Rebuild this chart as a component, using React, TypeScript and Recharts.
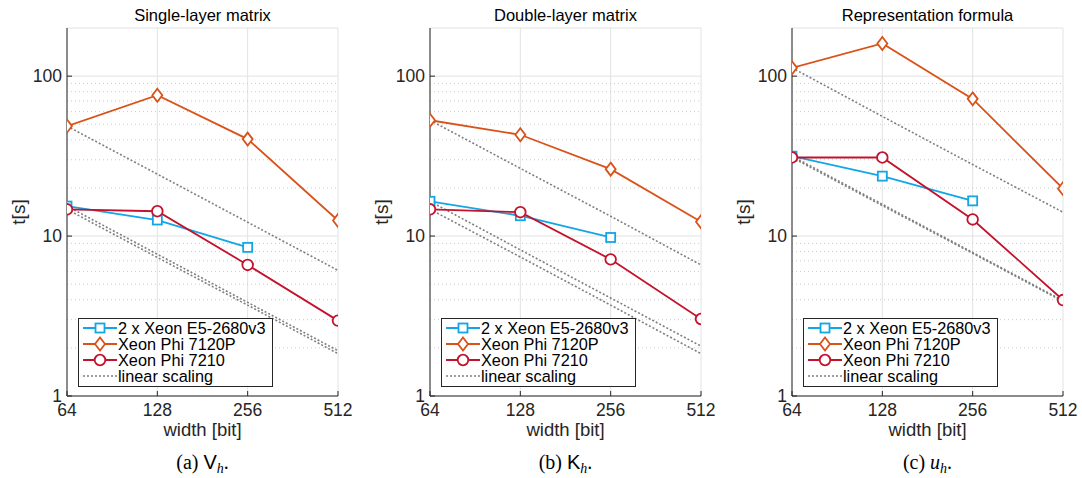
import React from "react";
import {
  LineChart,
  Line,
  XAxis,
  YAxis,
  CartesianGrid,
  ReferenceLine,
} from "recharts";

// x values (bit width) and axis ticks
const widths = [64, 128, 256, 512];
const xTicks = [64, 128, 256, 512];
const yTicks = [1, 10, 100];
const yMinor = [2, 3, 4, 5, 6, 7, 8, 9, 20, 30, 40, 50, 60, 70, 80, 90];

// (a) single-layer matrix
const singleE5 = [15.4, 12.6, 8.5];
const single7120 = [48.7, 76, 40.4, 12.5];
const single7210 = [14.7, 14.3, 6.6, 2.96];
const singleLinA = [48.7, 24.4, 12.2, 6.1];
const singleLinB = [15.4, 7.7, 3.85, 1.92];
const singleLinC = [14.7, 7.35, 3.7, 1.84];

// (b) double-layer matrix
const doubleE5 = [16.5, 13.4, 9.8];
const double7120 = [53, 43, 26.2, 12.3];
const double7210 = [14.7, 14.1, 7.15, 3.03];
const doubleLinA = [53, 26.5, 13.3, 6.6];
const doubleLinB = [16.5, 8.2, 4.1, 2.05];
const doubleLinC = [14.7, 7.4, 3.7, 1.84];

// (c) representation formula
const reprE5 = [31.6, 23.7, 16.6];
const repr7120 = [112.7, 160, 72.1, 19.8];
const repr7210 = [31, 31, 12.7, 3.98];
const reprLinA = [112.7, 56, 28, 14.1];
const reprLinB = [31.6, 15.8, 7.9, 3.95];
const reprLinC = [31, 15.5, 7.8, 3.9];

const seriesNames = [
  "2 x Xeon E5-2680v3",
  "Xeon Phi 7120P",
  "Xeon Phi 7210",
  "linear scaling",
];

const BLUE = "#12a6e6";
const ORANGE = "#d95319";
const RED = "#c3122c";
const GREY = "#7f7f7f";
const INK = "#262626";
const SANS = "'Liberation Sans', Arial, Helvetica, sans-serif";
const SERIF = "'Liberation Serif', 'Times New Roman', serif";

const PLOT_LEFT = 67;
const PLOT_W = 271;
const PLOT_TOP = 28;
const PLOT_H = 368;

// marker shapes
const Square = ({ cx, cy, color }: any) => (
  <rect x={cx - 4.5} y={cy - 4.5} width={9} height={9} fill="#fff" stroke={color} strokeWidth={1.8} />
);
const Diamond = ({ cx, cy, color }: any) => (
  <path
    d={`M${cx},${cy - 6.5} L${cx + 5},${cy} L${cx},${cy + 6.5} L${cx - 5},${cy} Z`}
    fill="#fff"
    stroke={color}
    strokeWidth={1.8}
  />
);
const Circle = ({ cx, cy, color }: any) => (
  <circle cx={cx} cy={cy} r={5.3} fill="#fff" stroke={color} strokeWidth={1.8} />
);

const makeDot = (Shape: any, color: string) => (props: any) => {
  const { cx, cy, index } = props;
  if (cx == null || cy == null || props.value == null) return <g key={`n-${index}`} />;
  return (
    <g key={`d-${index}`}>
      <Shape cx={cx} cy={cy} color={color} />
    </g>
  );
};

const LegendBox = () => {
  const icons = [
    <Square cx={17} cy={8} color={BLUE} />,
    <Diamond cx={17} cy={8} color={ORANGE} />,
    <Circle cx={17} cy={8} color={RED} />,
    null,
  ];
  const colors = [BLUE, ORANGE, RED, GREY];
  return (
    <div
      style={{
        position: "absolute",
        left: PLOT_LEFT + 11,
        top: 318,
        width: 193,
        height: 66,
        border: `1px solid ${INK}`,
        background: "#fff",
        paddingTop: 1,
        fontFamily: SANS,
        fontSize: 16.3,
        color: "#000",
      }}
    >
      {seriesNames.map((name, i) => (
        <div key={name} style={{ display: "flex", alignItems: "center", height: 16 }}>
          <svg width={34} height={16} style={{ marginLeft: 4, flex: "none" }}>
            <line
              x1={0}
              y1={8}
              x2={34}
              y2={8}
              stroke={colors[i]}
              strokeWidth={i === 3 ? 1.6 : 1.8}
              strokeDasharray={i === 3 ? "2 2" : undefined}
            />
            {icons[i]}
          </svg>
          <span style={{ marginLeft: 1, whiteSpace: "nowrap", lineHeight: "16px" }}>{name}</span>
        </div>
      ))}
    </div>
  );
};

interface PanelProps {
  left: number;
  title: string;
  caption: React.ReactNode;
  e5: number[];
  p7120: number[];
  p7210: number[];
  linA: number[];
  linB: number[];
  linC: number[];
}

function Panel({ left, title, caption, e5, p7120, p7210, linA, linB, linC }: PanelProps) {
  const rows = widths.map((w, i) => ({
    w,
    e5: e5[i],
    p7120: p7120[i],
    p7210: p7210[i],
    linA: linA[i],
    linB: linB[i],
    linC: linC[i],
  }));

  return (
    <div style={{ position: "absolute", left, top: 0, width: 358, height: 478 }}>
      <div
        style={{
          position: "absolute",
          left: PLOT_LEFT,
          top: 5,
          width: PLOT_W,
          textAlign: "center",
          fontSize: 16.5,
          lineHeight: "20px",
          color: "#000",
        }}
      >
        {title}
      </div>

      <LineChart
        width={358}
        height={478}
        data={rows}
        margin={{ top: PLOT_TOP, right: 358 - PLOT_LEFT - PLOT_W, left: 0, bottom: 0 }}
      >
        <CartesianGrid stroke="#e2e2e2" strokeWidth={1} />
        {yMinor.map((v) => (
          <ReferenceLine key={v} y={v} stroke="#cacaca" strokeDasharray="1 3" />
        ))}
        <XAxis
          dataKey="w"
          type="number"
          scale="log"
          domain={[64, 512]}
          allowDataOverflow
          ticks={xTicks}
          height={478 - PLOT_TOP - PLOT_H}
          stroke={INK}
          tickSize={-5}
          tickMargin={13}
          tick={{ fill: INK, fontSize: 17.5 }}
        />
        <XAxis
          xAxisId="top"
          orientation="top"
          type="number"
          scale="log"
          domain={[64, 512]}
          allowDataOverflow
          ticks={xTicks}
          height={0}
          stroke={INK}
          tickSize={-5}
          tickFormatter={() => ""}
        />
        <YAxis
          type="number"
          scale="log"
          domain={[1, 200]}
          allowDataOverflow
          ticks={yTicks}
          width={PLOT_LEFT}
          stroke={INK}
          tickSize={-5}
          tickMargin={10}
          tick={{ fill: INK, fontSize: 17.5 }}
        />
        <YAxis
          yAxisId="right"
          orientation="right"
          type="number"
          scale="log"
          domain={[1, 200]}
          allowDataOverflow
          ticks={yTicks}
          width={0}
          stroke={INK}
          tickSize={-5}
          tickFormatter={() => ""}
        />
        <YAxis
          yAxisId="rightMinor"
          orientation="right"
          type="number"
          scale="log"
          domain={[1, 200]}
          allowDataOverflow
          ticks={yMinor}
          width={0}
          axisLine={false}
          stroke={INK}
          tickSize={-3}
          tickFormatter={() => ""}
        />

        {(["linA", "linB", "linC"] as const).map((k) => (
          <Line
            key={k}
            dataKey={k}
            stroke={GREY}
            strokeWidth={1.6}
            strokeDasharray="2 2"
            dot={false}
            isAnimationActive={false}
          />
        ))}
        <Line dataKey="e5" stroke={BLUE} strokeWidth={1.8} dot={makeDot(Square, BLUE)} isAnimationActive={false} />
        <Line dataKey="p7120" stroke={ORANGE} strokeWidth={1.8} dot={makeDot(Diamond, ORANGE)} isAnimationActive={false} />
        <Line dataKey="p7210" stroke={RED} strokeWidth={1.8} dot={makeDot(Circle, RED)} isAnimationActive={false} />
      </LineChart>

      <div
        style={{
          position: "absolute",
          left: 19,
          top: PLOT_TOP + PLOT_H / 2,
          transform: "translate(-50%, -50%) rotate(-90deg)",
          fontSize: 19,
          color: INK,
          whiteSpace: "nowrap",
        }}
      >
        t[s]
      </div>
      <div
        style={{
          position: "absolute",
          left: PLOT_LEFT,
          top: 420,
          width: PLOT_W,
          textAlign: "center",
          fontSize: 18.5,
          lineHeight: "20px",
          color: INK,
        }}
      >
        width [bit]
      </div>

      <LegendBox />

      <div
        style={{
          position: "absolute",
          left: PLOT_LEFT,
          top: 452,
          width: PLOT_W,
          textAlign: "center",
          fontFamily: SERIF,
          fontSize: 20,
          lineHeight: "20px",
          color: "#000",
        }}
      >
        {caption}
      </div>
    </div>
  );
}

const Sub = ({ children }: { children: React.ReactNode }) => (
  <sub style={{ fontStyle: "italic", fontSize: 14, verticalAlign: -4, lineHeight: 0 }}>{children}</sub>
);

export default function App() {
  return (
    <div
      style={{
        position: "absolute",
        left: 0,
        top: 0,
        width: 1082,
        height: 478,
        overflow: "hidden",
        background: "#fff",
        fontFamily: SANS,
      }}
    >
      <Panel
        left={0}
        title="Single-layer matrix"
        caption={
          <>
            (a) <span style={{ fontFamily: SANS }}>V</span>
            <Sub>h</Sub>.
          </>
        }
        e5={singleE5}
        p7120={single7120}
        p7210={single7210}
        linA={singleLinA}
        linB={singleLinB}
        linC={singleLinC}
      />
      <Panel
        left={363}
        title="Double-layer matrix"
        caption={
          <>
            (b) <span style={{ fontFamily: SANS }}>K</span>
            <Sub>h</Sub>.
          </>
        }
        e5={doubleE5}
        p7120={double7120}
        p7210={double7210}
        linA={doubleLinA}
        linB={doubleLinB}
        linC={doubleLinC}
      />
      <Panel
        left={725}
        title="Representation formula"
        caption={
          <>
            (c) <i>u</i>
            <Sub>h</Sub>.
          </>
        }
        e5={reprE5}
        p7120={repr7120}
        p7210={repr7210}
        linA={reprLinA}
        linB={reprLinB}
        linC={reprLinC}
      />
    </div>
  );
}
